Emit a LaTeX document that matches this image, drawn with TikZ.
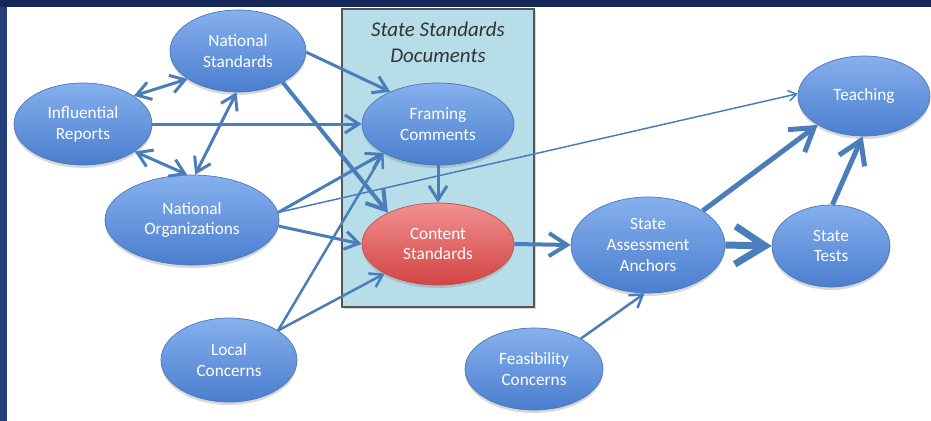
\documentclass[tikz,border=0pt]{standalone}
\usepackage{fontspec}
\setmainfont{Carlito}
\usetikzlibrary{shapes.geometric,arrows.meta,shadows}
\definecolor{navy}{HTML}{15285A}
\definecolor{navyL}{HTML}{243F78}
\definecolor{blueT}{HTML}{86B0EE}
\definecolor{blueB}{HTML}{4A7ECE}
\definecolor{blueE}{HTML}{4A78B8}
\definecolor{redT}{HTML}{F29090}
\definecolor{redB}{HTML}{D24444}
\definecolor{redE}{HTML}{C0504D}
\definecolor{arrc}{HTML}{4A7EBB}
\definecolor{boxc}{HTML}{B6DDE8}
\definecolor{boxe}{HTML}{555555}
\begin{document}
\begin{tikzpicture}[x=1bp,y=-1bp,
  >={Straight Barb[length=2bp 4,width=3bp 5]},
  ell/.style={ellipse, draw=blueE, line width=0.7bp, top color=blueT, bottom color=blueB,
    text=white, font=\fontsize{17.3}{21}\selectfont, align=center, inner sep=0pt,
    drop shadow={shadow xshift=0bp, shadow yshift=-3bp, opacity=0.3}},
  redell/.style={ell, draw=redE, top color=redT, bottom color=redB},
  conn/.style={draw=arrc, line width=#1, ->},
  conn/.default=3bp,
  biconn/.style={draw=arrc, line width=#1, <->},
  biconn/.default=3bp,
  ttl/.style={anchor=base, font=\fontsize{21}{25}\selectfont\itshape, text=black!80, inner sep=0pt}]
\useasboundingbox (0,0) rectangle (931,420);
% background
\fill[navy] (-5,-5) rectangle (940,430);
\fill[navyL] (-5,7) rectangle (7,430);
\fill[white] (7,7) rectangle (940,430);
% state standards box
\node[draw=boxe, line width=2bp, fill=boxc, minimum width=192bp, minimum height=298bp, inner sep=0pt,
  drop shadow={shadow xshift=2bp, shadow yshift=-2bp, opacity=0.3}] (ssd) at (438,158) {};
\node[ttl] (t1) at (438,36) {State Standards};
\node[ttl] (t2) at (438,62) {Documents};
% nodes
\node[ell, minimum width=136bp, minimum height=82bp] (ns) at (238,51) {National\\Standards};
\node[ell, minimum width=138bp, minimum height=82bp] (ir) at (83,124) {Influential\\Reports};
\node[ell, minimum width=174bp, minimum height=90bp] (no) at (192,220) {National\\Organizations};
\node[ell, minimum width=152bp, minimum height=82bp] (fc) at (438,124) {Framing\\Comments};
\node[redell, minimum width=152bp, minimum height=82bp] (cs) at (438,244) {Content\\Standards};
\node[ell, minimum width=154bp, minimum height=96bp] (saa) at (648,245) {State\\Assessment\\Anchors};
\node[ell, minimum width=118bp, minimum height=82bp] (st) at (831,246) {State\\Tests};
\node[ell, minimum width=132bp, minimum height=80bp] (te) at (864,96) {Teaching};
\node[ell, minimum width=136bp, minimum height=84bp] (lc) at (229,360) {Local\\Concerns};
\node[ell, minimum width=138bp, minimum height=82bp] (fe) at (534,369) {Feasibility\\Concerns};
% connectors
\draw[biconn] (ir.29) -- (ns.209);
\draw[biconn] (ir.332) -- (no.96);
\draw[biconn] (ns.268) -- (no.86);
\draw[conn] (ir.0) -- (fc.180);
\draw[conn] (ns.359) -- (fc.146);
\draw[conn=4bp] (ns.325) -- (cs.148);
\draw[conn] (no.5) -- (fc.208);
\draw[conn=1.5bp] (no.5) -- (te.178);
\draw[conn] (no.356) -- (cs.180);
\draw[conn=2.5bp] (lc.31) -- (fc.208);
\draw[conn=2.5bp] (lc.31) -- (cs.209);
\draw[conn] (fc.270) -- (cs.90);
\draw[conn=4bp] (cs.0) -- (saa.180);
\draw[conn=7bp] (saa.0) -- (st.180);
\draw[conn=5bp] (saa.32) -- (te.212);
\draw[conn=5bp] (st.88) -- (te.268);
\draw[conn=2.5bp] (fe.33) -- (saa.266);
\end{tikzpicture}
\end{document}
